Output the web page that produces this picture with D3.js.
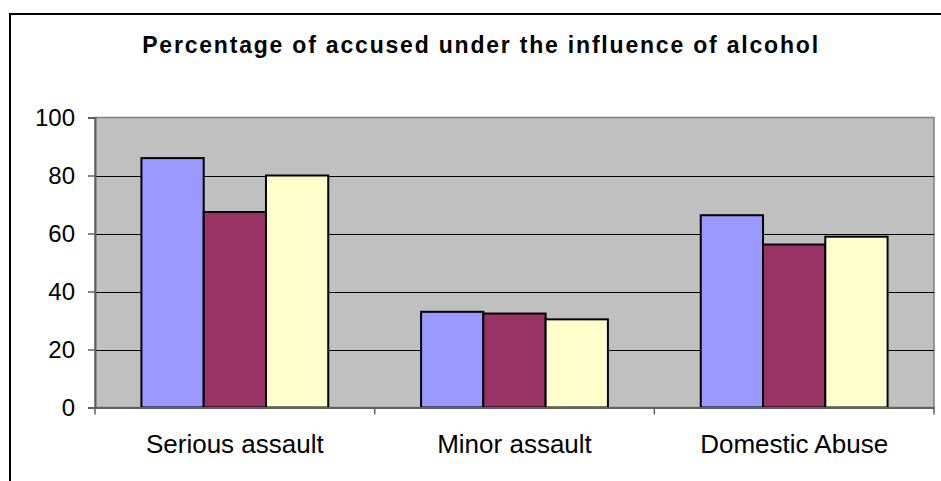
<!DOCTYPE html>
<html>
<head>
<meta charset="utf-8">
<script src="https://cdn.jsdelivr.net/npm/d3@7"></script>
<style>
html, body { margin: 0; padding: 0; background: #fff; }
svg { display: block; }
text { font-family: Arial, "Liberation Sans", sans-serif; fill: #000; }
</style>
</head>
<body>
<svg id="chart" width="941" height="481"></svg>
<script>
const title = "Percentage of accused under the influence of alcohol";
const categories = ["Serious assault", "Minor assault", "Domestic Abuse"];
const seriesNames = ["Series 1", "Series 2", "Series 3"];
const series1 = [86, 33, 66.3];
const series2 = [67.4, 32.4, 56.2];
const series3 = [80, 30.4, 58.9];
const seriesColors = ["#9999FF", "#993366", "#FFFFCC"];
const yTicks = [0, 20, 40, 60, 80, 100];

const seriesValues = [series1, series2, series3];
const svg = d3.select("#chart");

const plot = { left: 95, right: 934, top: 117.5, bottom: 407.5 };
const FONT = "Arial, 'Liberation Sans', sans-serif";

// outer chart border
svg.append("rect")
  .attr("x", 10).attr("y", 14)
  .attr("width", 960).attr("height", 500)
  .attr("fill", "#fff").attr("stroke", "#000").attr("stroke-width", 2);

// title
svg.append("text")
  .attr("x", 481).attr("y", 53)
  .attr("text-anchor", "middle")
  .style("font-size", "23px").style("font-weight", "bold")
  .style("letter-spacing", "1.8px")
  .text(title);

const x0 = d3.scaleBand().domain(categories).range([plot.left, plot.right]).padding(0);
const bw = x0.bandwidth();
const x1 = d3.scaleBand().domain(seriesNames).range([bw * 0.166, bw * 0.834]).padding(0);
const y = d3.scaleLinear().domain([0, 100]).range([plot.bottom, plot.top]);

// plot background
svg.append("rect")
  .attr("x", plot.left).attr("y", plot.top)
  .attr("width", plot.right - plot.left).attr("height", plot.bottom - plot.top)
  .attr("fill", "#C0C0C0").attr("stroke", "#808080").attr("stroke-width", 1.5);

// gridlines
svg.append("g").selectAll("line")
  .data(yTicks.filter(t => t > 0 && t < 100))
  .join("line")
  .attr("x1", plot.left).attr("x2", plot.right)
  .attr("y1", d => Math.round(y(d)) + 0.5).attr("y2", d => Math.round(y(d)) + 0.5)
  .attr("stroke", "#000").attr("stroke-width", 1);

// bars
const rows = categories.map((c, i) => ({ cat: c, vals: seriesNames.map((s, j) => ({ s, j, v: seriesValues[j][i] })) }));
svg.append("g").selectAll("g")
  .data(rows)
  .join("g")
  .attr("transform", d => `translate(${x0(d.cat)},0)`)
  .selectAll("rect")
  .data(d => d.vals)
  .join("rect")
  .attr("x", d => x1(d.s))
  .attr("y", d => y(d.v))
  .attr("width", x1.bandwidth())
  .attr("height", d => y(0) - y(d.v))
  .attr("fill", d => seriesColors[d.j])
  .attr("stroke", "#000").attr("stroke-width", 2);

// y axis
const yAxis = d3.axisLeft(y).tickValues(yTicks).tickSize(7).tickPadding(13).tickFormat(d3.format("d"));
const gy = svg.append("g").attr("transform", `translate(${plot.left},0)`).call(yAxis);
gy.select(".domain").attr("stroke", "#606060").attr("stroke-width", 2);
gy.selectAll(".tick line").attr("stroke", "#606060").attr("stroke-width", 1.5);
gy.selectAll(".tick text").style("font-size", "24px").attr("fill", "#000")
  .style("font-family", FONT);

// x axis
const xAxis = d3.axisBottom(x0).tickSize(0).tickPadding(0);
const gx = svg.append("g").attr("transform", `translate(0,${plot.bottom})`).call(xAxis);
gx.select(".domain").attr("stroke", "#606060").attr("stroke-width", 2);
gx.selectAll(".tick text").style("font-size", "26px").attr("fill", "#000")
  .style("font-family", FONT).attr("dy", null).attr("y", 45);
// category boundary ticks
const bounds = categories.map(c => x0(c)).concat([plot.right]);
svg.append("g").selectAll("line")
  .data(bounds)
  .join("line")
  .attr("x1", d => d).attr("x2", d => d)
  .attr("y1", plot.bottom).attr("y2", plot.bottom + 7)
  .attr("stroke", "#606060").attr("stroke-width", 1.5);
</script>
</body>
</html>
